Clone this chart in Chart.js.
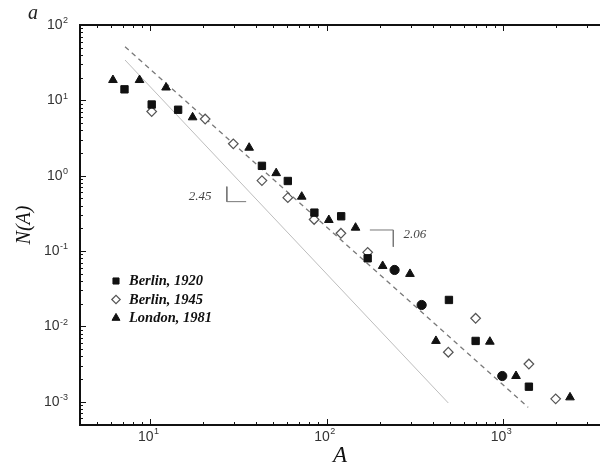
<!DOCTYPE html>
<html>
<head>
<meta charset="utf-8">
<script src="https://cdn.jsdelivr.net/npm/chart.js@4.4.1/dist/chart.umd.min.js"></script>
<style>
  html, body { margin: 0; padding: 0; background: #fff; }
  #chart { display: block; }
</style>
</head>
<body>
<canvas id="chart" width="600" height="470"></canvas>
<script>
// Berlin 1920 (filled squares)
const berlin1920A = [7.15, 10.2, 14.4, 43, 60.3, 85.3, 121, 171, 494, 700, 1403];
const berlin1920N = [14.0, 8.8, 7.5, 1.35, 0.85, 0.323, 0.289, 0.080, 0.0224, 0.0064, 0.00158];

// Berlin 1945 (open diamonds)
const berlin1945A = [10.2, 20.5, 29.6, 43, 60.3, 85, 120.6, 171, 490, 700, 1403, 1990];
const berlin1945N = [7.1, 5.65, 2.65, 0.86, 0.51, 0.262, 0.172, 0.096, 0.00453, 0.0128, 0.00316, 0.00109];

// London 1981 (filled triangles)
const london1981A = [6.15, 8.7, 12.3, 17.4, 36.4, 51.8, 72.3, 103, 146, 208, 297, 417, 843, 1186, 2400];
const london1981N = [18.6, 18.6, 14.8, 5.95, 2.35, 1.08, 0.526, 0.258, 0.204, 0.0633, 0.0496, 0.0064, 0.00625, 0.00219, 0.00114];

// filled circles (not in legend)
const circlesA = [243, 346, 991];
const circlesN = [0.056, 0.0192, 0.00219];

// fitted power laws
const fit206A = [7.2, 1390];
const fit206N = [51.5, 0.00084];
const fit245A = [7.2, 490];
const fit245N = [34.3, 0.00096];

// slope brackets
const bracket245A = [27.2, 27.2, 35.0];
const bracket245N = [0.715, 0.452, 0.452];
const bracket206A = [176, 239, 239];
const bracket206N = [0.190, 0.190, 0.114];

const slopeLabels = ['2.45', '2.06'];
const slopeLabelA = [19.2, 317];
const slopeLabelN = [0.52, 0.163];

const xMin = 4.0, xMax = 3550;
const yMin = 4.9e-4, yMax = 100;
const xMajorTicks = [10, 100, 1000];
const yMajorTicks = [1e-3, 1e-2, 1e-1, 1, 10, 100];

const zip = (xs, ys) => xs.map((x, i) => ({ x: x, y: ys[i] }));

function logTicks(min, max) {
    const out = [];
    for (let e = Math.floor(Math.log10(min)); e <= Math.ceil(Math.log10(max)); e++) {
        for (let m = 1; m <= 9; m++) {
            const v = m * Math.pow(10, e);
            if (v >= min * 0.9999 && v <= max * 1.0001) out.push({ value: v, major: m === 1 });
        }
    }
    return out;
}

function expText(v) {
    return String(Math.round(Math.log10(v)));
}

const serif = '"Liberation Serif", "DejaVu Serif", serif';
const sans = '"Liberation Sans", Arial, sans-serif';

const frameAndTicks = {
    id: 'frameAndTicks',
    afterDraw(chart) {
        const ctx = chart.ctx;
        const a = chart.chartArea;
        const xs = chart.scales.x, ys = chart.scales.y;
        ctx.save();

        // frame
        ctx.strokeStyle = '#111';
        ctx.lineWidth = 2;
        ctx.beginPath();
        ctx.moveTo(a.left, a.top);
        ctx.lineTo(a.right, a.top);
        ctx.moveTo(a.left, a.top - 1);
        ctx.lineTo(a.left, a.bottom);
        ctx.lineTo(a.right, a.bottom);
        ctx.stroke();

        // inward ticks
        ctx.lineWidth = 1;
        ctx.beginPath();
        xs.ticks.forEach(t => {
            const px = Math.round(xs.getPixelForValue(t.value)) + 0.5;
            const len = t.major ? 6 : 3;
            ctx.moveTo(px, a.bottom);
            ctx.lineTo(px, a.bottom - len);
            ctx.moveTo(px, a.top);
            ctx.lineTo(px, a.top + len);
        });
        ys.ticks.forEach(t => {
            const py = Math.round(ys.getPixelForValue(t.value)) + 0.5;
            const len = t.major ? 6 : 3;
            ctx.moveTo(a.left, py);
            ctx.lineTo(a.left + len, py);
        });
        ctx.stroke();

        // tick labels, 10 with a raised exponent
        ctx.fillStyle = '#333';
        ctx.textBaseline = 'middle';
        const base = '14px ' + sans, sup = '9px ' + sans;
        xMajorTicks.forEach(v => {
            const px = xs.getPixelForValue(v);
            ctx.font = base;
            const w1 = ctx.measureText('10').width;
            ctx.font = sup;
            const w2 = ctx.measureText(expText(v)).width;
            const left = px - 2 - (w1 + w2) / 2;
            ctx.textAlign = 'left';
            ctx.font = base;
            ctx.fillText('10', left, a.bottom + 12);
            ctx.font = sup;
            ctx.fillText(expText(v), left + w1 + 0.5, a.bottom + 7);
        });
        yMajorTicks.forEach(v => {
            const py = ys.getPixelForValue(v);
            ctx.font = sup;
            const w2 = ctx.measureText(expText(v)).width;
            const right = a.left - 12;
            ctx.textAlign = 'left';
            ctx.fillText(expText(v), right - w2, py - 4);
            ctx.font = base;
            ctx.textAlign = 'right';
            ctx.fillText('10', right - w2 - 0.5, py);
        });

        // panel letter
        ctx.font = 'italic 20px ' + serif;
        ctx.fillStyle = '#222';
        ctx.textAlign = 'center';
        ctx.fillText('a', 33, 14);

        // slope labels
        ctx.font = 'italic 13px ' + serif;
        ctx.fillStyle = '#444';
        slopeLabels.forEach((s, i) => {
            ctx.fillText(s, xs.getPixelForValue(slopeLabelA[i]), ys.getPixelForValue(slopeLabelN[i]));
        });

        // legend
        const items = [0, 1, 2];
        const sizes = [4.3, 4.2, 4.6];
        items.forEach((di, k) => {
            const ds = chart.data.datasets[di];
            const mx = a.left + 36, my = a.top + 256 + k * 18.5;
            ctx.fillStyle = ds.backgroundColor;
            ctx.strokeStyle = ds.borderColor;
            ctx.lineWidth = ds.pointBorderWidth;
            Chart.helpers.drawPoint(ctx, {
                pointStyle: ds.pointStyle, radius: sizes[k], rotation: 0, borderWidth: ds.pointBorderWidth
            }, mx, my);
            ctx.fillStyle = '#111';
            ctx.font = 'italic bold 14.5px ' + serif;
            ctx.textAlign = 'left';
            ctx.fillText(ds.label, mx + 13, my + 0.5);
        });
        ctx.restore();
    }
};

const lineSet = (label, xs, ys, color, width, dash) => ({
    label: label,
    data: zip(xs, ys),
    showLine: true,
    pointRadius: 0,
    borderColor: color,
    borderWidth: width,
    borderDash: dash,
    fill: false,
    order: 2
});

const ctx = document.getElementById('chart').getContext('2d');
new Chart(ctx, {
    type: 'scatter',
    data: {
        datasets: [
            {
                label: 'Berlin, 1920',
                data: zip(berlin1920A, berlin1920N),
                pointStyle: 'rect',
                pointRadius: 5.2,
                backgroundColor: '#111',
                borderColor: '#111',
                pointBorderWidth: 1,
                order: 1
            },
            {
                label: 'Berlin, 1945',
                data: zip(berlin1945A, berlin1945N),
                pointStyle: 'rectRot',
                pointRadius: 4.8,
                backgroundColor: '#fff',
                borderColor: '#555',
                pointBorderWidth: 1.2,
                order: 1
            },
            {
                label: 'London, 1981',
                data: zip(london1981A, london1981N),
                pointStyle: 'triangle',
                pointRadius: 5,
                backgroundColor: '#111',
                borderColor: '#111',
                pointBorderWidth: 1,
                order: 1
            },
            {
                label: 'circles',
                data: zip(circlesA, circlesN),
                pointStyle: 'circle',
                pointRadius: 4.6,
                backgroundColor: '#111',
                borderColor: '#111',
                pointBorderWidth: 1,
                order: 1
            },
            lineSet('slope 2.06', fit206A, fit206N, '#7a7a7a', 1.3, [5, 4]),
            lineSet('slope 2.45', fit245A, fit245N, '#bdbdbd', 1, []),
            lineSet('bracket 2.45', bracket245A, bracket245N, '#777', 1, []),
            lineSet('bracket 2.06', bracket206A, bracket206N, '#777', 1, [])
        ]
    },
    options: {
        responsive: false,
        animation: false,
        layout: { autoPadding: false, padding: { top: 25, right: 0, bottom: 0, left: 0 } },
        plugins: {
            legend: { display: false },
            tooltip: { enabled: false }
        },
        scales: {
            x: {
                type: 'logarithmic',
                min: xMin,
                max: xMax,
                grid: { display: false, drawTicks: false },
                border: { display: false },
                ticks: { display: false, autoSkip: false },
                afterBuildTicks(s) { s.ticks = logTicks(xMin, xMax); },
                afterFit(s) { s.height = 45; },
                title: {
                    display: true,
                    text: 'A',
                    color: '#111',
                    font: { family: serif, style: 'italic', size: 23 },
                    padding: { top: 0, bottom: 0 }
                }
            },
            y: {
                type: 'logarithmic',
                min: yMin,
                max: yMax,
                grid: { display: false, drawTicks: false },
                border: { display: false },
                ticks: { display: false, autoSkip: false },
                afterBuildTicks(s) { s.ticks = logTicks(yMin, yMax); },
                afterFit(s) { s.width = 80; },
                title: {
                    display: true,
                    text: 'N(A)',
                    color: '#111',
                    font: { family: serif, style: 'italic', size: 20 },
                    padding: { top: 13, bottom: 0 }
                }
            }
        }
    },
    plugins: [frameAndTicks]
});
</script>
</body>
</html>
